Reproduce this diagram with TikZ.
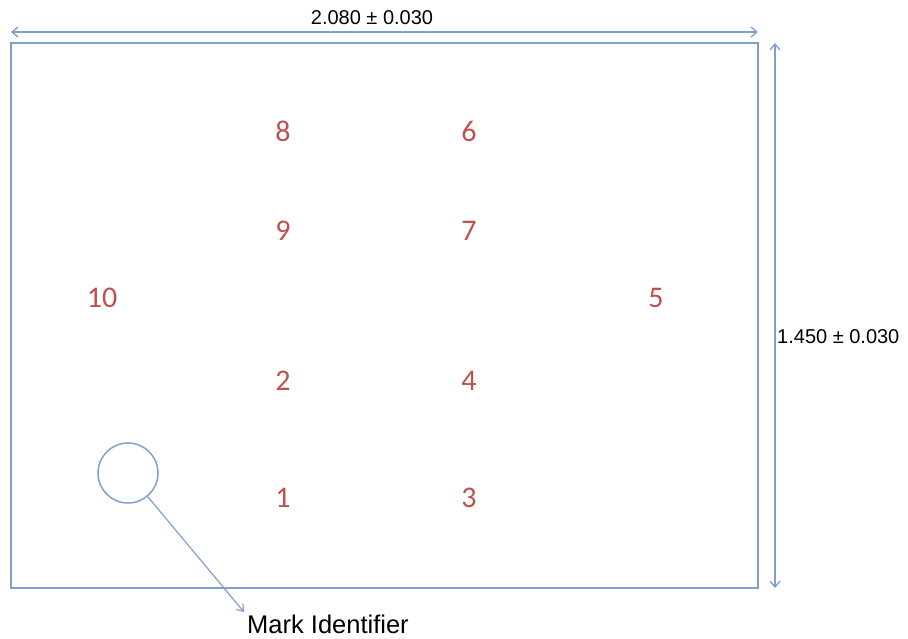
\documentclass[tikz,border=0pt]{standalone}
\usepackage{fontspec}
\setmainfont{Liberation Sans}
\newfontfamily\calib{Carlito}
\usetikzlibrary{arrows.meta}
\definecolor{lineblue}{HTML}{7F9FD2}
\definecolor{numred}{HTML}{C0504D}
\tikzset{
  num/.style={font=\calib\fontsize{30}{32}\selectfont, text=numred, inner sep=0pt},
  dimlbl/.style={font=\fontsize{20}{22}\selectfont, inner sep=0pt},
  dimarrow/.style={draw=lineblue, line width=1.3pt, {Straight Barb[length=6pt,width=10pt]}-{Straight Barb[length=6pt,width=10pt]}},
  outline/.style={draw=lineblue, line width=2pt},
}
\begin{document}
\begin{tikzpicture}[x=1pt,y=-1pt]
\useasboundingbox (0,0) rectangle (908,638);
% board
\coordinate (tl) at (11,43);
\coordinate (br) at (758,588);
\draw[outline] (tl) rectangle (br);
% horizontal dimension
\coordinate (hl) at (11,32);
\coordinate (hr) at (758,32);
\draw[dimarrow] (hl) -- (hr);
\node[dimlbl] (hlab) at (372,18) {2.080 ± 0.030};
% vertical dimension
\coordinate (vt) at (775,43);
\coordinate (vb) at (775,588);
\draw[dimarrow] (vt) -- (vb);
\node[dimlbl, anchor=west] (vlab) at (777,337) {1.450 ± 0.030};
% numbers
\node[num] (n8) at (283,131) {8};
\node[num] (n6) at (469,131) {6};
\node[num] (n9) at (283,231) {9};
\node[num] (n7) at (469,231) {7};
\node[num] (n10) at (102,298) {10};
\node[num] (n5) at (656,298) {5};
\node[num] (n2) at (283,381) {2};
\node[num] (n4) at (469,381) {4};
\node[num] (n1) at (283,498) {1};
\node[num] (n3) at (469,498) {3};
% mark identifier
\node[draw=lineblue, line width=1.5pt, circle, minimum size=60pt, inner sep=0pt] (circ) at (128,473) {};
\node[font=\fontsize{25.5}{27}\selectfont, inner sep=0pt, anchor=west] (mark) at (247,624) {Mark Identifier};
\coordinate (mtip) at (244,612);
\draw[draw=lineblue, line width=1.2pt, -{Straight Barb[length=6pt,width=9pt]}] (circ) -- (mtip);
\end{tikzpicture}
\end{document}
